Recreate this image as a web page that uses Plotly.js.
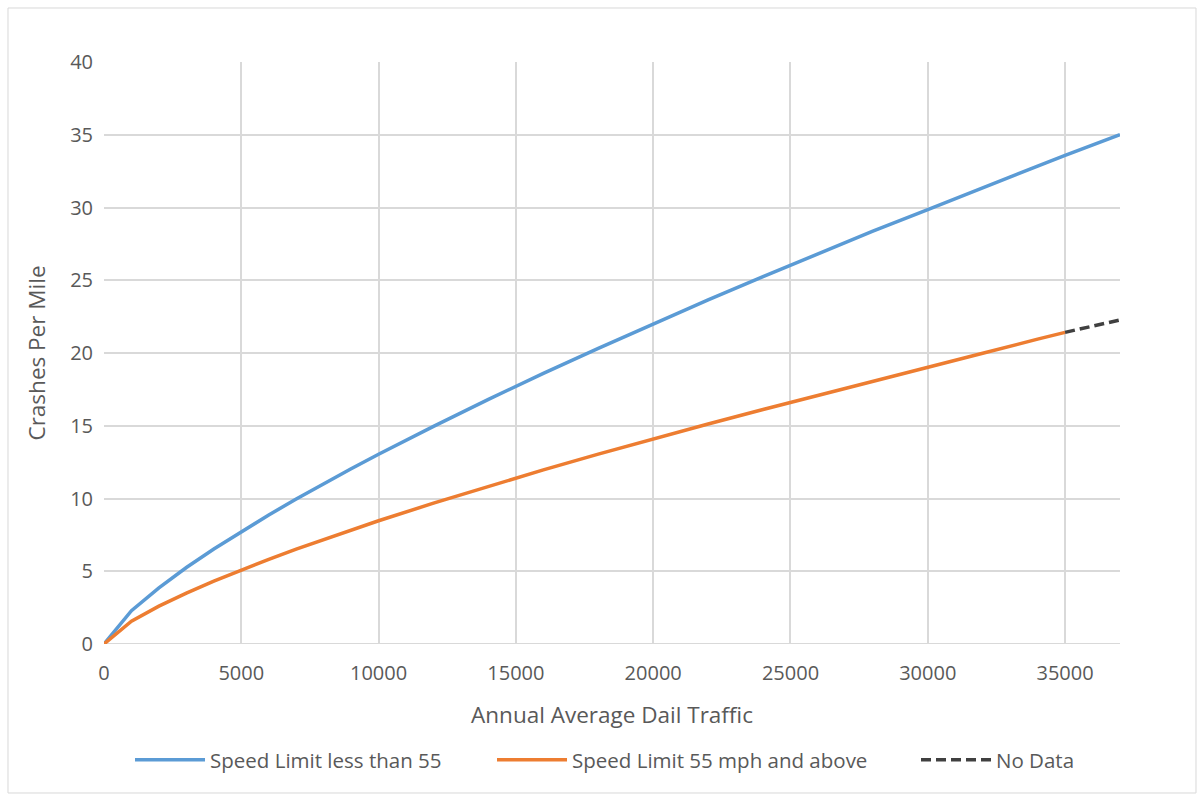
<!DOCTYPE html>
<html>
<head>
<meta charset="utf-8">
<script src="https://cdn.plot.ly/plotly-3.0.1.min.js"></script>
<style>html,body{margin:0;padding:0;background:#fff;}#chart{width:1199px;height:795px;}</style>
</head>
<body>
<div id="chart"></div>
<script>
var traffic = [0, 1000, 2000, 3000, 4000, 5000, 6000, 7000, 8000, 9000, 10000, 12000, 14000, 16000, 18000, 20000, 22000, 24000, 26000, 28000, 30000, 32000, 34000, 35000, 36000, 37000];
var crashesBelow55 = [0, 2.29, 3.86, 5.26, 6.53, 7.72, 8.87, 9.96, 11.02, 12.04, 13.04, 14.96, 16.81, 18.60, 20.32, 22.0, 23.65, 25.25, 26.83, 28.37, 29.85, 31.38, 32.85, 33.58, 34.3, 35.0];
var traffic55 = [0, 1000, 2000, 3000, 4000, 5000, 6000, 7000, 8000, 9000, 10000, 12000, 14000, 16000, 18000, 20000, 22000, 24000, 26000, 28000, 30000, 32000, 34000, 35000];
var crashes55Above = [0, 1.57, 2.60, 3.50, 4.32, 5.09, 5.82, 6.52, 7.19, 7.84, 8.47, 9.68, 10.85, 11.97, 13.05, 14.10, 15.12, 16.12, 17.10, 18.05, 19.02, 19.98, 20.95, 21.42];
var trafficNoData = [35000, 36000, 37000];
var crashesNoData = [21.42, 21.85, 22.27];
var seriesNames = ["Speed Limit less than 55", "Speed Limit 55 mph and above", "No Data"];

var font = "Open Sans, Noto Sans, sans-serif";
var grey = "#595959";

var data = [
  {x: traffic, y: crashesBelow55, name: seriesNames[0], mode: "lines", line: {color: "#5b9bd5", width: 3.5}, legend: "legend"},
  {x: traffic55, y: crashes55Above, name: seriesNames[1], mode: "lines", line: {color: "#ed7d31", width: 3.5}, legend: "legend2"},
  {x: trafficNoData, y: crashesNoData, name: seriesNames[2], mode: "lines", line: {color: "#404040", width: 3.5, dash: "10px,5px"}, legend: "legend3"}
];

function leg(xp) {
  return {orientation: "h", x: xp, xanchor: "left", y: -0.199, yanchor: "middle",
          font: {size: 20.5, color: grey, family: font}, itemwidth: 70, bgcolor: "rgba(0,0,0,0)"};
}

var layout = {
  width: 1199, height: 795,
  paper_bgcolor: "#fff", plot_bgcolor: "#fff",
  margin: {l: 104, r: 79, t: 62, b: 151},
  font: {family: font, color: grey},
  showlegend: true,
  legend: leg(0.0256),
  legend2: leg(0.3819),
  legend3: leg(0.7992),
  xaxis: {
    range: [0, 37000], dtick: 5000, tick0: 0, tickformat: "d",
    showgrid: true, gridcolor: "#d9d9d9", gridwidth: 2,
    zeroline: false, showline: false,
    ticks: "outside", ticklen: 11, tickcolor: "rgba(0,0,0,0)",
    tickfont: {size: 20, color: grey, family: font},
    title: {text: "Annual Average Dail Traffic", font: {size: 22.5, color: grey, family: font}, standoff: 22}
  },
  yaxis: {
    range: [0, 40], dtick: 5, tick0: 0,
    showgrid: true, gridcolor: "#d9d9d9", gridwidth: 2,
    zeroline: false, showline: false,
    ticks: "outside", ticklen: 6, tickcolor: "rgba(0,0,0,0)",
    tickfont: {size: 20, color: grey, family: font},
    title: {text: "Crashes Per Mile", font: {size: 22.5, color: grey, family: font}, standoff: 18}
  },
  shapes: [
    {type: "line", xref: "paper", yref: "y", x0: 0, x1: 1, y0: 0, y1: 0, line: {color: "#d9d9d9", width: 2}, layer: "below"},
    {type: "rect", xref: "paper", yref: "paper", x0: -0.0945, x1: 1.0748, y0: -0.256, y1: 1.0928, line: {color: "#d9d9d9", width: 1}, layer: "below"}
  ]
};

Plotly.newPlot("chart", data, layout, {displayModeBar: false, staticPlot: true});
</script>
</body>
</html>
